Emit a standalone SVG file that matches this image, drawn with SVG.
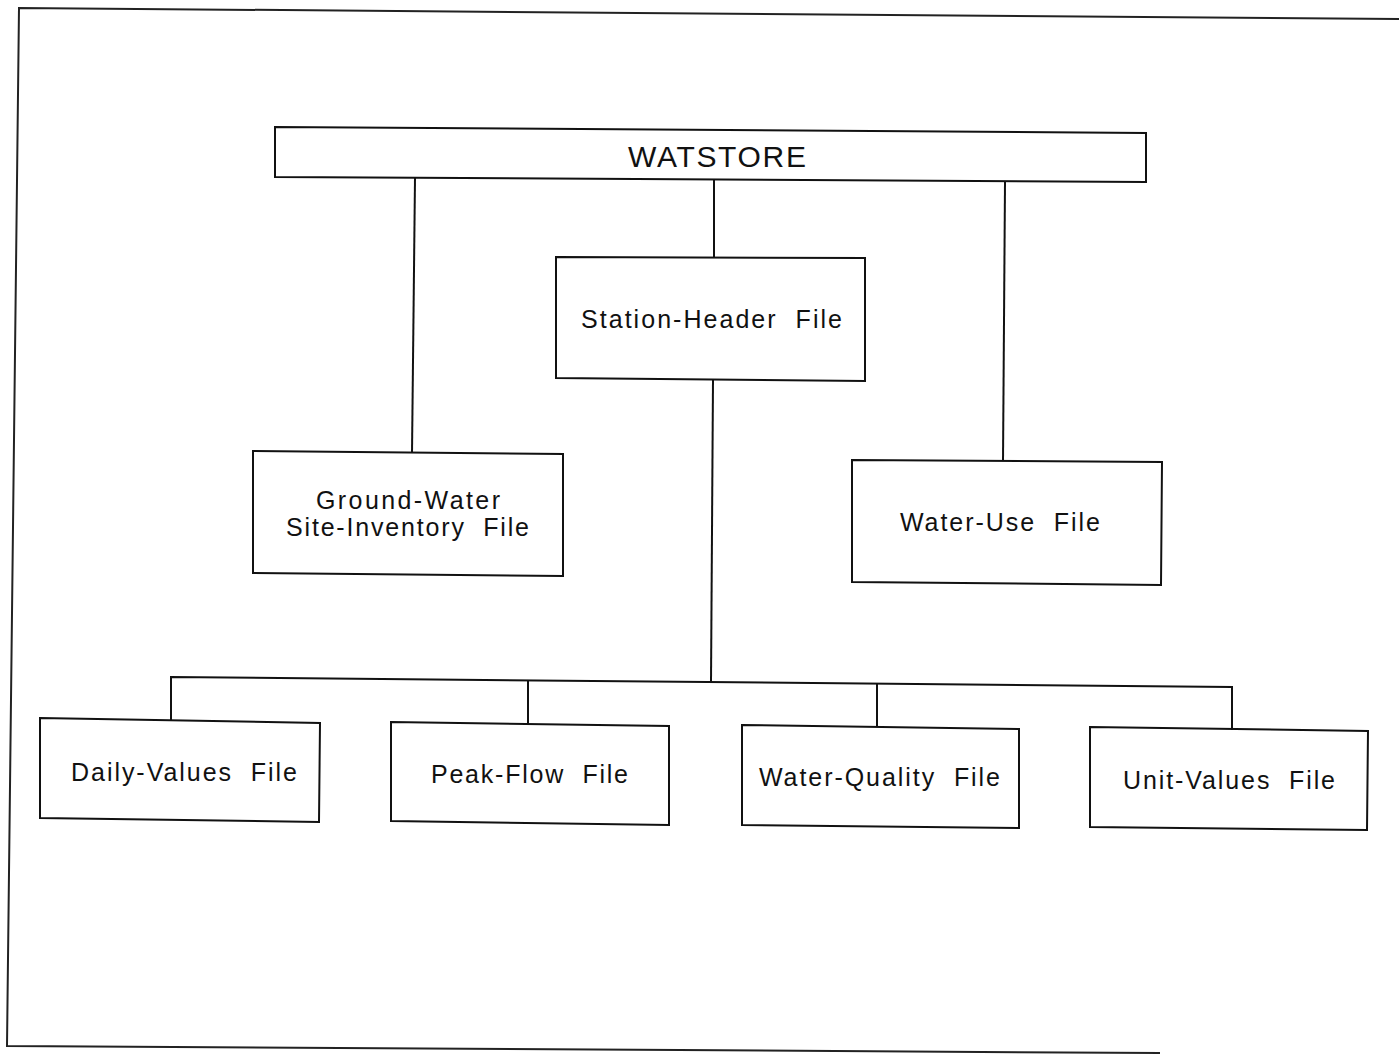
<svg xmlns="http://www.w3.org/2000/svg" width="1399" height="1054" viewBox="0 0 1399 1054">
<style>
.box{fill:none;stroke:#111;stroke-width:2;stroke-linejoin:miter}
.ln{fill:none;stroke:#111;stroke-width:2}
.frame{fill:none;stroke:#222;stroke-width:2}
text{font-family:"Liberation Sans",Arial,sans-serif;font-size:25px;fill:#111}
.big{font-size:30px}
</style>
<rect width="1399" height="1054" fill="#fff"/>
<path class="frame" d="M1399 19 L19 8 L7 1046 L1160 1053"/>
<g id="connectors">
<path class="ln" d="M415 178 L412 453"/>
<path class="ln" d="M714 180 L714 257"/>
<path class="ln" d="M1005 182 L1003 461"/>
<path class="ln" d="M713 380 L711 682"/>
<path class="ln" d="M171 720 L171 677 L1232 687 L1232 730"/>
<path class="ln" d="M528 681 L528 724"/>
<path class="ln" d="M877 684 L877 727"/>
</g>
<g id="watstore">
<path class="box" d="M275 127 L1146 133 L1146 182 L275 177 Z"/>
<text class="big" x="628" y="167" textLength="178" lengthAdjust="spacing">WATSTORE</text>
</g>
<g id="station-header">
<path class="box" d="M556 257 L865 258 L865 381 L556 378 Z"/>
<text x="581" y="328" textLength="261" lengthAdjust="spacing" xml:space="preserve">Station-Header  File</text>
</g>
<g id="ground-water">
<path class="box" d="M253 451 L563 454 L563 576 L253 573 Z"/>
<text x="316" y="509" textLength="184" lengthAdjust="spacing">Ground-Water</text>
<text x="286" y="536" textLength="243" lengthAdjust="spacing" xml:space="preserve">Site-Inventory  File</text>
</g>
<g id="water-use">
<path class="box" d="M852 460 L1162 462 L1161 585 L852 582 Z"/>
<text x="900" y="531" textLength="200" lengthAdjust="spacing" xml:space="preserve">Water-Use  File</text>
</g>
<g id="daily-values">
<path class="box" d="M40 718 L320 723 L319 822 L40 818 Z"/>
<text x="71" y="781" textLength="226" lengthAdjust="spacing" xml:space="preserve">Daily-Values  File</text>
</g>
<g id="peak-flow">
<path class="box" d="M391 722 L669 726 L669 825 L391 821 Z"/>
<text x="431" y="783" textLength="197" lengthAdjust="spacing" xml:space="preserve">Peak-Flow  File</text>
</g>
<g id="water-quality">
<path class="box" d="M742 725 L1019 729 L1019 828 L742 825 Z"/>
<text x="759" y="786" textLength="241" lengthAdjust="spacing" xml:space="preserve">Water-Quality  File</text>
</g>
<g id="unit-values">
<path class="box" d="M1090 727 L1368 731 L1367 830 L1090 827 Z"/>
<text x="1123" y="789" textLength="212" lengthAdjust="spacing" xml:space="preserve">Unit-Values  File</text>
</g>
</svg>
